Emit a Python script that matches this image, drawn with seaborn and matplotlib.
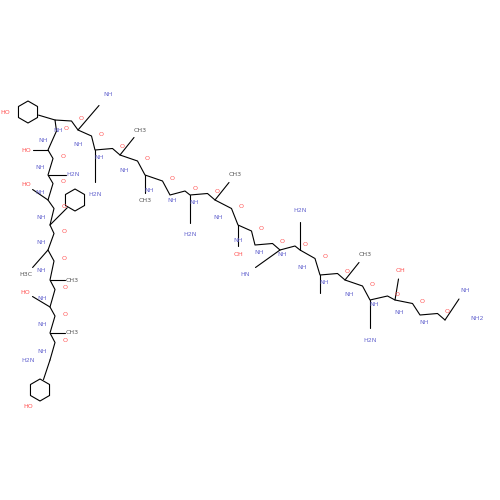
import matplotlib
matplotlib.use("Agg")
import matplotlib.pyplot as plt
import seaborn as sns
import pandas as pd
import numpy as np

sns.set_theme(style="white")

residues = ["Tyr","Ala","Asp","Ala","Ile","Phe","Thr","Asn","Ser","Tyr","Arg","Lys","Val","Leu","Gly",
            "Gln","Leu","Ser","Ala","Arg","Lys","Leu","Leu","Asn","Asp","Ile","Arg"]
ca_x = [50,50,50,50,48,50,48,48,48,55,78,95,120,145,170,190,215,238,255,280,300,320,345,370,395,420,445]
ca_y = [360,333,307,280,250,225,200,175,150,120,130,150,155,175,195,195,200,225,245,250,250,275,280,300,300,315,320]
side_label = ["", "CH3", "HO", "CH3", "H3C", "", "HO", "H2N", "HO", "", "NH", "H2N", "CH3", "CH3", "",
              "H2N", "CH3", "OH", "", "HN", "H2N", "", "CH3", "H2N", "OH", "", "NH"]
side_dx = [-10,22,-25,22,-22,25,-22,25,-22,-27,30,0,20,0,0,0,20,0,0,-35,0,0,20,0,5,0,20]
side_dy = [30,0,-15,0,25,-25,-15,0,0,-8,-35,45,-25,25,0,40,-25,30,0,25,-40,25,-25,40,-30,0,-30]

fig, ax = plt.subplots(figsize=(5, 5), dpi=100)
fig.subplots_adjust(0, 0, 1, 1)

bx, by = [], []
for i in range(len(ca_x)):
    bx.append(ca_x[i]); by.append(ca_y[i])
    if i < len(ca_x) - 1:
        mx = (ca_x[i] + ca_x[i+1]) / 2; my = (ca_y[i] + ca_y[i+1]) / 2
        bx.append(mx + 5); by.append(my - 4)
        ax.text(mx - 8, my + 5, "NH", color="#6a6ad0", fontsize=4.5, ha="center", va="center")
        ax.text(mx + 15, my - 6, "O", color="#ff5050", fontsize=4.5, ha="center", va="center")
bb = pd.DataFrame({"x": bx, "y": by})
sns.lineplot(data=bb, x="x", y="y", sort=False, color="black", lw=0.8, ax=ax, estimator=None)

for x, y, lab, dx, dy, r in zip(ca_x, ca_y, side_label, side_dx, side_dy, residues):
    if r in ("Tyr", "Phe"):
        cx, cy = x + dx, y + dy
        d = np.hypot(dx, dy)
        ax.plot([x, cx - dx / d * 11], [y, cy - dy / d * 11], color="black", lw=0.8)
        t = np.linspace(0, 2*np.pi, 7) + np.pi/6
        ax.plot(cx + 11*np.cos(t), cy + 11*np.sin(t), color="black", lw=0.8)
    else:
        ax.plot([x, x + dx * 0.7], [y, y + dy * 0.7], color="black", lw=0.8)
    if lab:
        col = "#6a6ad0" if "N" in lab else ("#ff5050" if "O" in lab else "#555555")
        ax.text(x + dx, y + dy, lab, color=col, fontsize=4.5, ha="center", va="center")

ax.text(10, 112, "HO", color="#ff5050", fontsize=4.5, ha="right", va="center")
ax.text(28, 406, "HO", color="#ff5050", fontsize=4.5, ha="center", va="center")
ax.text(35, 360, "H2N", color="#6a6ad0", fontsize=4.5, ha="right", va="center")
ax.text(470, 320, "NH2", color="#6a6ad0", fontsize=4.5)
ax.set_xlim(0, 500); ax.set_ylim(500, 0)
ax.axis("off")
fig.savefig("out.png", dpi=100)
